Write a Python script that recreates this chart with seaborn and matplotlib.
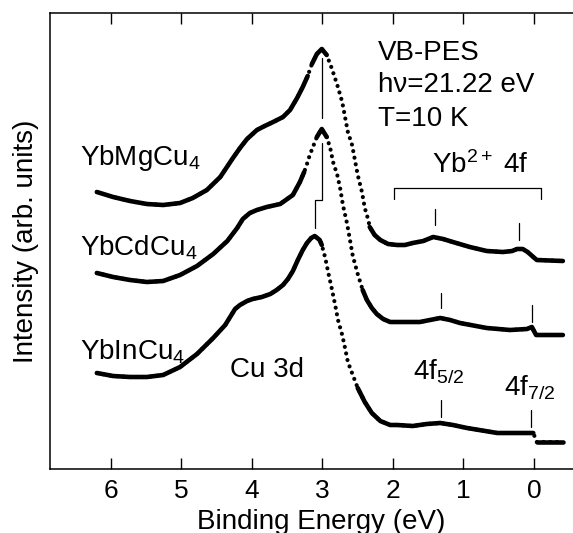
import numpy as np
import pandas as pd
import matplotlib
matplotlib.use("Agg")
import matplotlib.pyplot as plt
import seaborn as sns

# ---------------- data ----------------
mg_energy = [6.20, 5.97, 5.73, 5.49, 5.26, 5.02, 4.84, 4.64, 4.45, 4.27, 4.17, 4.07, 3.93,
             3.82, 3.70, 3.56, 3.46, 3.36, 3.28, 3.21, 3.15, 3.08, 3.01, 2.94, 2.87, 2.79,
             2.72, 2.68, 2.64, 2.58, 2.54, 2.50, 2.44, 2.40, 2.35, 2.33, 2.26, 2.18, 2.07,
             1.94, 1.83, 1.72, 1.57, 1.43, 1.29, 1.15, 0.91, 0.67, 0.44, 0.31, 0.24, 0.16,
             0.09, 0.01, -0.04, -0.41]
mg_intensity = [277, 272, 268, 265, 264, 266, 271, 279, 292, 311, 321, 330, 339,
                343, 347, 352, 359, 371, 382, 393, 405, 415, 420, 414, 401, 384,
                367, 352, 337, 324, 309, 294, 277, 261, 249, 242, 234, 229, 225,
                224, 224, 226, 228, 232, 230, 227, 222, 218, 217, 218, 220, 220,
                217, 212, 209, 208]

cd_energy = [6.20, 5.97, 5.73, 5.49, 5.26, 5.02, 4.78, 4.55, 4.35, 4.21, 4.13, 4.03, 3.93,
             3.79, 3.60, 3.50, 3.42, 3.32, 3.26, 3.22, 3.18, 3.13, 3.08, 3.01, 2.94, 2.89,
             2.85, 2.79, 2.75, 2.71, 2.65, 2.61, 2.57, 2.50, 2.43, 2.37, 2.30, 2.23, 2.14,
             2.04, 1.94, 1.62, 1.33, 1.19, 1.05, 0.67, 0.34, 0.10, 0.03, -0.03, -0.41]
cd_intensity = [196, 192, 189, 187, 188, 194, 203, 215, 228, 241, 250, 256, 259,
                262, 265, 270, 274, 287, 297, 305, 314, 323, 332, 340, 332, 321,
                307, 294, 281, 264, 245, 229, 213, 195, 179, 169, 161, 155, 150,
                147, 147, 147, 151, 149, 146, 141, 139, 140, 142, 134, 134]

in_energy = [6.20, 5.97, 5.73, 5.49, 5.26, 5.02, 4.78, 4.55, 4.38, 4.31, 4.24, 4.17, 4.07,
             3.99, 3.86, 3.74, 3.65, 3.56, 3.49, 3.42, 3.35, 3.28, 3.22, 3.16, 3.11, 3.04,
             3.01, 2.96, 2.92, 2.87, 2.82, 2.78, 2.72, 2.68, 2.64, 2.57, 2.50, 2.40, 2.30,
             2.18, 2.04, 1.94, 1.72, 1.52, 1.33, 1.15, 0.95, 0.52, 0.06, 0.01, -0.04, -0.41]
in_intensity = [96, 93, 92, 92, 94, 102, 115, 131, 144, 152, 160, 164, 168,
                170, 172, 175, 179, 184, 190, 198, 209, 219, 226, 231, 233, 229,
                224, 211, 197, 181, 164, 149, 134, 121, 107, 94, 81, 67, 56,
                48, 44, 44, 43, 45, 46, 44, 41, 36, 36, 36, 27, 27]

x_ticks = [6, 5, 4, 3, 2, 1, 0]
x_tick_labels = ["6", "5", "4", "3", "2", "1", "0"]

# ---------------- style ----------------
sns.set_theme(style="ticks")
plt.rcParams['font.family'] = ['Liberation Sans', 'DejaVu Sans']
plt.rcParams['mathtext.fontset'] = 'custom'
plt.rcParams['mathtext.rm'] = 'Liberation Sans'
plt.rcParams['mathtext.it'] = 'Liberation Sans:italic'
plt.rcParams['mathtext.bf'] = 'Liberation Sans:bold'
plt.rcParams['text.color'] = 'black'
plt.rcParams['axes.labelcolor'] = 'black'
plt.rcParams['xtick.color'] = 'black'
plt.rcParams['ytick.color'] = 'black'

W, H = 573, 533
fig = plt.figure(figsize=(W / 100, H / 100), dpi=100)
ax = fig.add_axes([50 / W, 1 - 469 / H, (592 - 50) / W, (469 - 13) / H])
ax.set_xlim(6.865, -0.823)
ax.set_ylim(0, 456)
fig.canvas.draw()

curves = [(mg_energy, mg_intensity), (cd_energy, cd_intensity), (in_energy, in_intensity)]

# dotted layer (whole curves) + solid layer on gently sloped parts
for k, (e, y) in enumerate(curves):
    sns.lineplot(x=e, y=y, ax=ax, sort=False, estimator=None, color='black',
                 lw=3.0, linestyle=(0, (0.01, 1.6)), dash_capstyle='round')
    pts = ax.transData.transform(np.column_stack([e, y]))
    rows = []
    seg = 0
    prev_flat = False
    for i in range(len(e) - 1):
        dx = abs(pts[i + 1, 0] - pts[i, 0])
        dy = abs(pts[i + 1, 1] - pts[i, 1])
        flat = dy <= 2.5 * dx
        if flat:
            if not prev_flat:
                seg += 1
                rows.append((e[i], y[i], seg))
            rows.append((e[i + 1], y[i + 1], seg))
        prev_flat = flat
    df = pd.DataFrame(rows, columns=['E', 'I', 'seg'])
    sns.lineplot(data=df, x='E', y='I', units='seg', estimator=None, sort=False, ax=ax,
                 color='black', lw=3.3, solid_capstyle='round', solid_joinstyle='round')

# annotation lines
alw = 0.9
ax.plot([3.01, 3.01], [411, 351], color='black', lw=alw)
ax.plot([3.01, 3.01, 3.11, 3.11], [326, 269, 269, 241], color='black', lw=alw)
ax.plot([1.99, 1.99, -0.10, -0.10], [270, 281, 281, 270], color='black', lw=alw)
for xv, y0, y1 in [(1.40, 260, 244), (0.21, 246, 229), (1.32, 176, 161), (0.03, 164, 147),
                   (1.32, 69, 52), (0.04, 59, 42)]:
    ax.plot([xv, xv], [y0, y1], color='black', lw=alw)

fs = 20
txt = dict(fontsize=fs, ha='left', va='baseline', color='black')
ax.text(6.44, 304, "YbMgCu$_4$", **txt)
ax.text(6.44, 214, "YbCdCu$_4$", **txt)
ax.text(6.44, 110, "YbInCu$_4$", **txt)
ax.text(2.21, 409, "VB-PES", **txt)
ax.text(2.21, 377, "h\u03bd=21.22 eV", **txt)
ax.text(2.21, 343, "T=10 K", **txt)
ax.text(1.45, 296, "Yb$^{2+}$ 4f", **txt)
ax.text(4.31, 92, "Cu 3d", **txt)
ax.text(1.72, 89, "4f$_{5/2}$", **txt)
ax.text(0.43, 73, "4f$_{7/2}$", **txt)

# axes styling
ax.set_xticks(x_ticks)
ax.set_xticklabels(x_tick_labels)
ax.set_yticks([])
ax.tick_params(axis='x', direction='in', top=True, bottom=True, length=8, width=1,
               labelsize=19, pad=7.5, colors='black')
for s in ['left', 'bottom', 'top']:
    ax.spines[s].set_visible(True)
    ax.spines[s].set_linewidth(1.1)
    ax.spines[s].set_color('black')
ax.spines['right'].set_visible(False)
ax.set_xlabel("Binding Energy (eV)", fontsize=fs, labelpad=4)
ax.set_ylabel("Intensity (arb. units)", fontsize=fs, labelpad=8)
ax.set_facecolor('white')
fig.patch.set_facecolor('white')

fig.savefig("out.png", dpi=100)
